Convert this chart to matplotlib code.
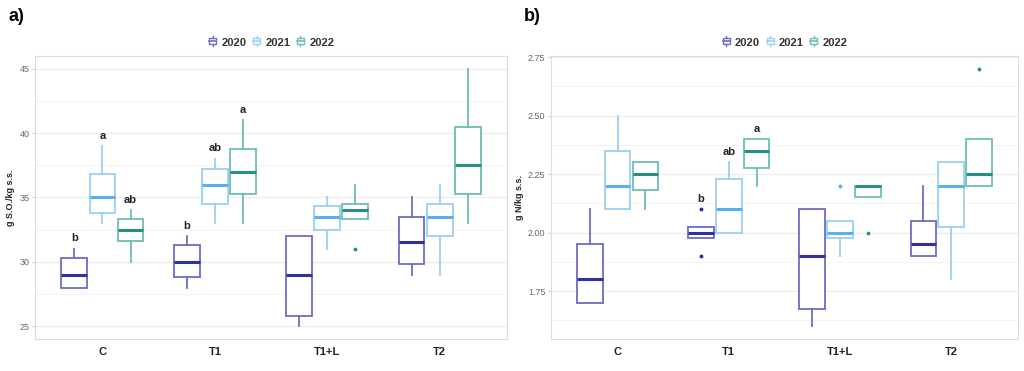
import numpy as np
import matplotlib.pyplot as plt
from matplotlib.patches import Rectangle
from matplotlib.lines import Line2D
from matplotlib.legend_handler import HandlerBase

plt.rcParams['font.family'] = ['Liberation Sans', 'DejaVu Sans']

treatments = ['C', 'T1', 'T1+L', 'T2']
years = ['2020', '2021', '2022']

# panel a) box stats per treatment: [whislo, q1, med, q3, whishi]
so_2020 = [[28, 28, 29, 30.3, 31], [28, 28.8, 30, 31.3, 32],
           [25, 25.8, 29, 32, 32], [29, 29.8, 31.5, 33.5, 35]]
so_2021 = [[33, 33.8, 35, 36.8, 39], [33, 34.5, 36, 37.2, 38],
           [31, 32.5, 33.5, 34.3, 35], [29, 32, 33.5, 34.5, 36]]
so_2022 = [[30, 31.6, 32.5, 33.3, 34], [33, 35.3, 37, 38.8, 41],
           [33.3, 33.3, 34, 34.5, 36], [33, 35.3, 37.5, 40.5, 45]]
so_fliers = [[[], [], [], []], [[], [], [], []], [[], [], [31], []]]
so_ticks = ['25', '30', '35', '40', '45']

# panel b)
n_2020 = [[1.70, 1.70, 1.80, 1.95, 2.10], [1.975, 1.975, 2.00, 2.025, 2.025],
          [1.60, 1.675, 1.90, 2.10, 2.10], [1.90, 1.90, 1.95, 2.05, 2.20]]
n_2021 = [[2.10, 2.10, 2.20, 2.35, 2.50], [2.00, 2.00, 2.10, 2.23, 2.30],
          [1.90, 1.975, 2.00, 2.05, 2.05], [1.80, 2.025, 2.20, 2.30, 2.30]]
n_2022 = [[2.10, 2.18, 2.25, 2.30, 2.30], [2.20, 2.275, 2.35, 2.40, 2.40],
          [2.15, 2.15, 2.20, 2.20, 2.20], [2.20, 2.20, 2.25, 2.40, 2.40]]
n_fliers = [[[], [2.10, 1.90], [], []], [[], [], [2.20], []], [[], [], [2.00], [2.70]]]
n_ticks = ['1.75', '2.00', '2.25', '2.50', '2.75']

# significance letters: (treatment index, year index, letter)
so_letters = [(0, 0, 'b'), (0, 1, 'a'), (0, 2, 'ab'), (1, 0, 'b'), (1, 1, 'ab'), (1, 2, 'a')]
n_letters = [(1, 0, 'b'), (1, 1, 'ab'), (1, 2, 'a')]

edge_cols = ['#6C6CC6', '#9CCFF4', '#6DBDB4']
med_cols = ['#2F2F9E', '#5AAFEC', '#2B8D85']
offsets = [-0.25, 0.0, 0.25]
box_w = 0.23


class BoxKey(HandlerBase):
    def create_artists(self, legend, orig, xd, yd, width, height, fontsize, trans):
        c = orig.get_edgecolor()
        cx = xd + width / 2
        r = Rectangle((cx - width * 0.35, yd + height * 0.15), width * 0.7, height * 0.7,
                      facecolor='white', edgecolor=c, lw=1.0, transform=trans)
        l1 = Line2D([cx - width * 0.35, cx + width * 0.35], [yd + height * 0.5] * 2,
                    color=c, lw=1.2, transform=trans)
        l2 = Line2D([cx, cx], [yd - height * 0.1, yd + height * 0.15], color=c, lw=1.0, transform=trans)
        l3 = Line2D([cx, cx], [yd + height * 0.85, yd + height * 1.1], color=c, lw=1.0, transform=trans)
        return [r, l1, l2, l3]


def stats_list(rows, fliers):
    out = []
    for r, f in zip(rows, fliers):
        out.append(dict(whislo=r[0], q1=r[1], med=r[2], q3=r[3], whishi=r[4], fliers=f))
    return out


def draw_panel(ax, data, fliers, letters, ylim, yticks, yticklabels, minor, ylabel):
    tops = {}
    for j, rows in enumerate(data):
        pos = [i + 1 + offsets[j] for i in range(len(treatments))]
        ax.bxp(stats_list(rows, fliers[j]), positions=pos, widths=box_w, patch_artist=True,
               showcaps=False,
               boxprops=dict(facecolor='white', edgecolor=edge_cols[j], lw=1.3),
               whiskerprops=dict(color=edge_cols[j], lw=1.3),
               medianprops=dict(color=med_cols[j], lw=2.2),
               flierprops=dict(marker='o', markersize=1.8, markerfacecolor=med_cols[j],
                               markeredgecolor=med_cols[j]))
        for i, r in enumerate(rows):
            tops[(i, j)] = max([r[4]] + list(fliers[j][i]))
    for i, j, t in letters:
        ax.annotate(t, (i + 1 + offsets[j], tops[(i, j)]), xytext=(0, 7.5),
                    textcoords='offset points', ha='center', va='center',
                    fontsize=8, fontweight='bold', color='#222222')
    ax.set_xlim(0.4, 4.6)
    ax.set_ylim(*ylim)
    ax.set_xticks(range(1, len(treatments) + 1))
    ax.set_xticklabels(treatments, fontsize=8, fontweight='bold', color='#222222')
    ax.set_yticks(yticks)
    ax.set_yticklabels(yticklabels)
    ax.set_yticks(minor, minor=True)
    ax.tick_params(axis='y', which='major', labelsize=6.5, labelcolor='#666666', color='#cccccc',
                   length=2.5, pad=1.5)
    ax.tick_params(axis='y', which='minor', length=0)
    ax.tick_params(axis='x', length=0, pad=6)
    ax.grid(True, axis='y', which='major', color='#ececec', lw=0.9)
    ax.grid(True, axis='y', which='minor', color='#f3f3f3', lw=0.7)
    ax.set_axisbelow(True)
    for s in ax.spines.values():
        s.set_color('#dddddd')
        s.set_linewidth(0.8)
    ax.set_ylabel(ylabel, fontsize=6.5, fontweight='bold', color='#222222', labelpad=3)

    handles = [Rectangle((0, 0), 1, 1, facecolor='white', edgecolor=edge_cols[k], label=years[k])
               for k in range(3)]
    leg = ax.legend(handles=handles, labels=years, loc='lower center', bbox_to_anchor=(0.5, 1.0),
                    ncol=3, frameon=False, handler_map={Rectangle: BoxKey()},
                    handlelength=0.9, handleheight=0.8, handletextpad=0.35, columnspacing=0.45,
                    prop=dict(size=8, weight='bold'), borderaxespad=0.35)
    for t in leg.get_texts():
        t.set_color('#333333')


fig = plt.figure(figsize=(10.24, 3.71), dpi=100)
ax1 = fig.add_axes([0.0342, 0.0863, 0.461, 0.763])
ax2 = fig.add_axes([0.538, 0.0863, 0.456, 0.763])

draw_panel(ax1, [so_2020, so_2021, so_2022], so_fliers, so_letters, (24, 46),
           [25, 30, 35, 40, 45], so_ticks, [27.5, 32.5, 37.5, 42.5], 'g S.O./kg s.s.')

draw_panel(ax2, [n_2020, n_2021, n_2022], n_fliers, n_letters, (1.545, 2.755),
           [1.75, 2.0, 2.25, 2.5, 2.75], n_ticks, [1.625, 1.875, 2.125, 2.375, 2.625], 'g N/kg s.s.')

fig.text(0.008, 0.955, 'a)', fontsize=13, fontweight='bold', va='center', ha='left')
fig.text(0.512, 0.955, 'b)', fontsize=13, fontweight='bold', va='center', ha='left')

fig.savefig('out.png', dpi=100)
